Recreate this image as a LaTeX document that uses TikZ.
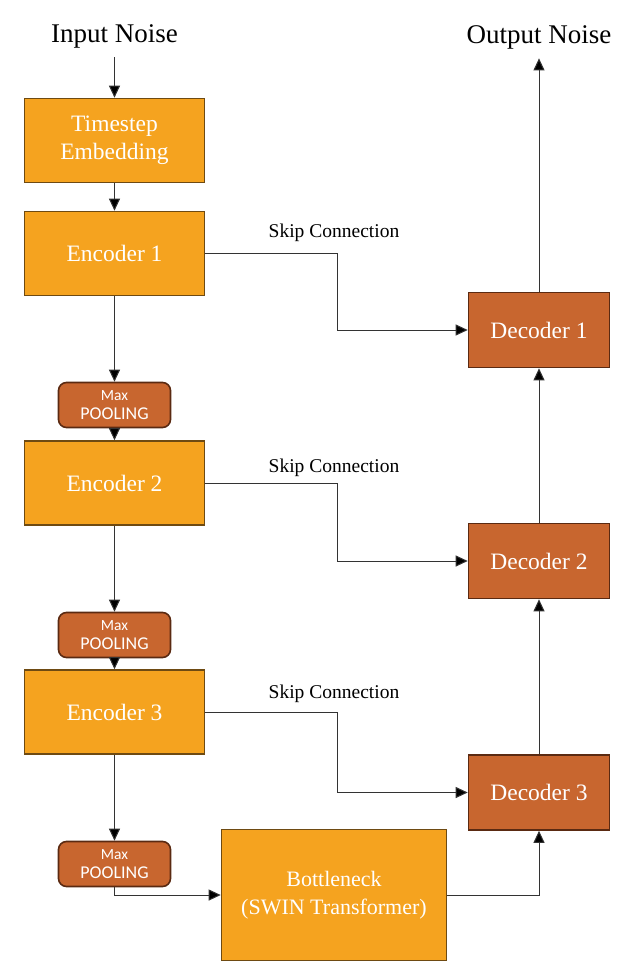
\documentclass[tikz,border=0pt]{standalone}
\usepackage{fontspec}
\setmainfont{Liberation Serif}
\newfontfamily\poolfont{Carlito}
\usetikzlibrary{arrows.meta}

\definecolor{encfill}{HTML}{F5A31F}
\definecolor{encline}{HTML}{6E4A12}
\definecolor{decfill}{HTML}{C8662F}
\definecolor{decline}{HTML}{5A2A12}
\definecolor{linegray}{HTML}{333333}

\begin{document}
\begin{tikzpicture}[x=1pt, y=-1pt,
	encbox/.style={rectangle, draw=encline, fill=encfill, line width=1.6pt, text=white,
		minimum width=180pt, minimum height=84pt, inner sep=0pt, align=center,
		font=\fontsize{23.5}{28}\selectfont},
	decbox/.style={rectangle, draw=decline, fill=decfill, line width=1.6pt, text=white,
		minimum width=141pt, minimum height=75pt, inner sep=0pt, align=center,
		font=\fontsize{23.5}{28}\selectfont},
	poolbox/.style={rectangle, rounded corners=8pt, draw=decline, fill=decfill, line width=1.6pt,
		text=white, minimum width=112pt, minimum height=45pt, inner sep=0pt, align=center,
		font=\poolfont\fontsize{18}{19}\selectfont},
	title/.style={font=\fontsize{27}{30}\selectfont},
	skiplabel/.style={font=\fontsize{19.5}{22}\selectfont},
	conn/.style={draw=linegray, line width=1pt, -{Triangle[length=12pt, width=11pt, fill=black]}}
	]
	\useasboundingbox (0,0) rectangle (636,980);

	% Nodes
	\node[title] (inp) at (114.5,36) {Input Noise};
	\node[title] (outp) at (539,37) {Output Noise};

	\node[encbox] (ts) at (114.5,140.5) {Timestep\\Embedding};
	\node[encbox] (enc1) at (114.5,253.5) {Encoder 1};
	\node[poolbox] (pool1) at (114.5,405) {{\fontsize{15.5}{19}\selectfont Max}\\POOLING};
	\node[encbox] (enc2) at (114.5,483) {Encoder 2};
	\node[poolbox] (pool2) at (114.5,635) {{\fontsize{15.5}{19}\selectfont Max}\\POOLING};
	\node[encbox] (enc3) at (114.5,712) {Encoder 3};
	\node[poolbox] (pool3) at (114.5,864) {{\fontsize{15.5}{19}\selectfont Max}\\POOLING};

	\node[encbox, minimum width=225pt, minimum height=131pt, font=\fontsize{22}{28}\selectfont]
		(bn) at (334,895) {Bottleneck\\(SWIN Transformer)};

	\node[decbox] (dec1) at (539,330) {Decoder 1};
	\node[decbox] (dec2) at (539,561) {Decoder 2};
	\node[decbox] (dec3) at (539,792.5) {Decoder 3};

	\node[skiplabel] (skip1) at (334,233) {Skip Connection};
	\node[skiplabel] (skip2) at (334,468) {Skip Connection};
	\node[skiplabel] (skip3) at (334,694) {Skip Connection};

	% Encoder path
	\draw[conn] ([yshift=-6pt]inp.south) -- (ts.north);
	\draw[conn] (ts.south) -- (enc1.north);
	\draw[conn] (enc1.south) -- (pool1.north);
	\draw[conn] (pool1.south) -- (enc2.north);
	\draw[conn] (enc2.south) -- (pool2.north);
	\draw[conn] (pool2.south) -- (enc3.north);
	\draw[conn] (enc3.south) -- (pool3.north);
	\draw[conn] (pool3.south) |- (bn.west);

	% Decoder path
	\draw[conn] (bn.east) -| (dec3.south);
	\draw[conn] (dec3.north) -- (dec2.south);
	\draw[conn] (dec2.north) -- (dec1.south);
	\draw[conn] (dec1.north) -- ([yshift=-6pt]outp.south);

	% Skip connections
	\draw[conn] (enc1.east) -- ++(132,0) |- (dec1.west);
	\draw[conn] (enc2.east) -- ++(132,0) |- (dec2.west);
	\draw[conn] (enc3.east) -- ++(132,0) |- (dec3.west);
\end{tikzpicture}
\end{document}
